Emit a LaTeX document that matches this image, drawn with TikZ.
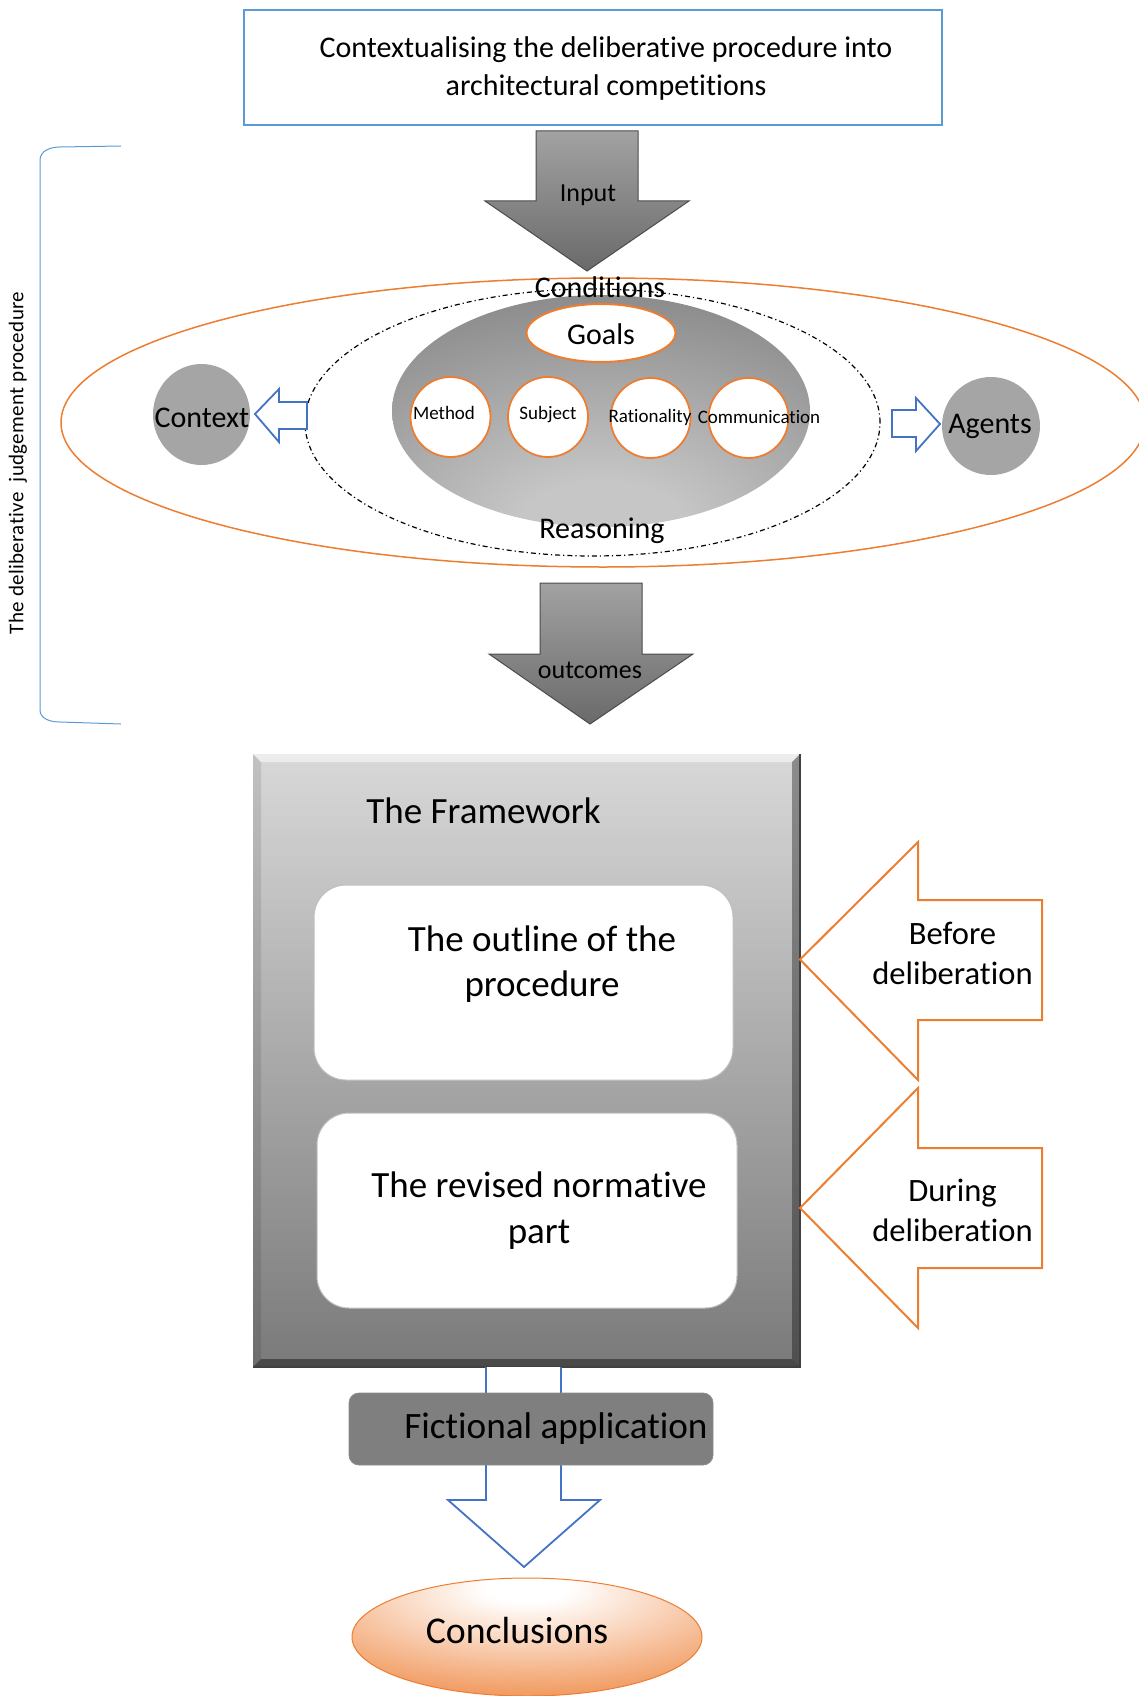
\documentclass[tikz,border=0pt]{standalone}
\usepackage{fontspec}
\setmainfont[Ligatures=NoCommon]{Carlito}
\newfontfamily\spacedfont[Ligatures=NoCommon, LetterSpace=1.5]{Carlito}
\usetikzlibrary{shapes.geometric}

\definecolor{accent}{HTML}{ED7D31}
\definecolor{lineblue}{HTML}{4472C4}
\definecolor{paleblue}{HTML}{5B9BD5}
\definecolor{discgray}{HTML}{A5A5A5}
\definecolor{appgray}{HTML}{7F7F7F}
\definecolor{coreLight}{HTML}{C6C6C6}
\definecolor{coreDark}{HTML}{6A6A6A}
\definecolor{frameTop}{HTML}{D8D8D8}
\definecolor{frameBottom}{HTML}{7A7A7A}
\definecolor{arrowTop}{HTML}{A2A2A2}
\definecolor{arrowBottom}{HTML}{6A6A6A}

% light spot near the bottom of the reasoning core
\pgfdeclareradialshading{coreshade}{\pgfpoint{0bp}{-28bp}}%
  {color(0bp)=(coreLight); color(10bp)=(coreLight); color(60bp)=(coreDark); color(100bp)=(coreDark)}
% white highlight near the top of the conclusions ellipse
\pgfdeclareradialshading{endshade}{\pgfpoint{0bp}{22bp}}%
  {color(0bp)=(white); color(6bp)=(white); color(48bp)=(accent); color(100bp)=(accent)}

\tikzset{
  blockarrow/.style={draw=black!70, line width=0.5pt, top color=arrowTop, bottom color=arrowBottom},
  hollowblue/.style={draw=lineblue, line width=0.9pt, fill=white, line join=miter},
  holloworange/.style={draw=accent, line width=1pt, fill=white, line join=miter},
  facet/.style={circle, draw=accent, line width=0.9pt, fill=white, inner sep=0pt,
    minimum width=39.5pt, minimum height=40pt},
  facettext/.style={font=\fontsize{9.5}{11}\selectfont, inner sep=0pt},
  disc/.style={ellipse, fill=discgray, draw=none, inner sep=0pt},
  label15/.style={font=\fontsize{15}{18}\selectfont, inner sep=0pt},
  innerbox/.style={rectangle, rounded corners=16pt, fill=white, draw=black!25, line width=0.5pt,
    minimum width=209.5pt, minimum height=97.5pt},
  bigtext/.style={font=\fontsize{18.5}{22.7}\selectfont, align=center, inner sep=0pt},
}

\begin{document}
\begin{tikzpicture}[x=0.5pt, y=-0.5pt]
\useasboundingbox (0,0) rectangle (1139,1696);
\clip (0,0) rectangle (1139,1696);

% ---------- heading box ----------
\node (headbox) [rectangle, draw=paleblue, line width=0.7pt, minimum width=349pt, minimum height=57.5pt,
  inner sep=0pt] at (593,67.5) {};
\node (headtext) [font=\fontsize{15}{19}\selectfont, align=center, inner sep=0pt] at (606,69)
  {Contextualising the deliberative procedure into\\architectural competitions};

% ---------- input arrow ----------
\path[blockarrow] (536,131) -- (638,131) -- (638,201) -- (689,201) -- (587,271) -- (485,201) -- (536,201) -- cycle;
\node (input) [font=\fontsize{13}{15}\selectfont, inner sep=0pt] at (588,195) {Input};

% ---------- side bracket with vertical caption ----------
\draw[paleblue, line width=0.5pt] (121,146) -- (60,147) to[out=180,in=90] (40,160) -- (40,710)
  to[out=-90,in=180] (60,722) -- (121,724);
\node (sidecap) [rotate=90, font=\spacedfont\fontsize{10.5}{12}\selectfont, inner sep=0pt] at (18,463)
  {The deliberative\ \ judgement procedure};

% ---------- deliberation ellipses ----------
\node (outer) [ellipse, draw=accent, line width=0.75pt, inner sep=0pt,
  minimum width=542pt, minimum height=144.5pt] at (603,422.5) {};
\node (scope) [ellipse, draw=black, line width=0.6pt, inner sep=0pt,
  dash pattern=on 2.5pt off 1.5pt on 0.6pt off 1.5pt,
  minimum width=287.5pt, minimum height=133.5pt] at (592.5,422.5) {};
\node (core) [ellipse, shading=coreshade, draw=none, inner sep=0pt,
  minimum width=209pt, minimum height=116pt] at (601,411) {};

\node (goals) [ellipse, draw=accent, line width=1pt, fill=white, inner sep=0pt,
  minimum width=74.5pt, minimum height=29pt] at (601,333) {};
\node (goalstext) [label15] at (601,334) {Goals};

\node (method) [facet] at (450.5,417) {};
\node (subject) [facet] at (548,417) {};
\node (rational) [facet] at (650.5,418) {};
\node (commun) [facet] at (748.5,418) {};
\node (methodtext) [facettext] at (444,413) {Method};
\node (subjecttext) [facettext] at (548,415) {Subject};
\node (rationaltext) [facettext] at (650,417) {Rationality};
\node (communtext) [facettext] at (759,417) {Communication};

\node (conditions) [label15] at (600,287) {Conditions};
\node (reasoning) [label15] at (602,531) {Reasoning};

% ---------- context and agents ----------
\node (context) [disc, minimum width=48.5pt, minimum height=50.5pt] at (201.5,414.5) {};
\node (contexttext) [label15] at (202,418) {Context};
\node (agents) [disc, minimum width=49pt, minimum height=49pt] at (991,426) {};
\node (agentstext) [label15] at (990,426) {Agents};

\path[hollowblue] (307,402) -- (279,402) -- (279,389) -- (255,414) -- (279,442) -- (279,429) -- (307,429) -- cycle;
\path[hollowblue] (892,410) -- (916,410) -- (916,398) -- (940,424) -- (916,451) -- (916,437) -- (892,437) -- cycle;

% ---------- outcomes arrow ----------
\path[blockarrow] (540,583) -- (642,583) -- (642,654) -- (693,654) -- (590,724) -- (489,654) -- (540,654) -- cycle;
\node (outcomes) [font=\fontsize{13}{15}\selectfont, inner sep=0pt] at (590,670) {outcomes};

% ---------- framework panel ----------
\node (frame) [rectangle, inner sep=0pt, top color=frameTop, bottom color=frameBottom,
  minimum width=273.5pt, minimum height=306.5pt] at (526.5,1060.5) {};
% bevelled rim
\fill[white, opacity=0.55] (253,754) -- (800,754) -- (792,762) -- (261,762) -- cycle;
\fill[black, opacity=0.10] (253,754) -- (261,762) -- (261,1359) -- (253,1367) -- cycle;
\fill[black, opacity=0.35] (800,754) -- (800,1367) -- (792,1359) -- (792,762) -- cycle;
\fill[black, opacity=0.40] (253,1367) -- (800,1367) -- (792,1359) -- (261,1359) -- cycle;
\draw[black!75, line width=0.6pt] (800,754) -- (800,1367) -- (253,1367);

\node (frametitle) [font=\fontsize{18.5}{22}\selectfont, inner sep=0pt] at (483.5,811) {The Framework};

\node (outline) [innerbox] at (523.5,982.5) {};
\node (outlinetext) [bigtext] at (542,964) {The outline of the\\procedure};
\node (revised) [innerbox, minimum width=210pt] at (527,1210.5) {};
\node (revisedtext) [bigtext] at (539,1210.5) {The revised normative\\part};

% ---------- timing arrows ----------
\path[holloworange] (1042,900) -- (918,900) -- (918,842) -- (800,959.5) -- (918,1080) -- (918,1020) -- (1042,1020) -- cycle;
\node (before) [font=\fontsize{16.3}{20}\selectfont, align=center, inner sep=0pt] at (952.5,953.5)
  {Before\\deliberation};
\path[holloworange] (1042,1148) -- (918,1148) -- (918,1088) -- (800,1208) -- (918,1328) -- (918,1268) -- (1042,1268) -- cycle;
\node (during) [font=\fontsize{16.3}{20}\selectfont, align=center, inner sep=0pt] at (952.5,1210)
  {During\\deliberation};

% ---------- down arrow, application and conclusions ----------
\path[hollowblue] (486,1367) -- (486,1500) -- (448,1500) -- (524,1567) -- (600,1500) -- (561,1500) -- (561,1367);

\node (fiction) [rectangle, rounded corners=5pt, fill=appgray, draw=black!45, line width=0.4pt,
  inner sep=0pt, minimum width=182pt, minimum height=36pt] at (531,1429) {};
\node (fictiontext) [font=\fontsize{18.6}{22}\selectfont, inner sep=0pt] at (556,1429) {Fictional application};

\node (concl) [ellipse, shading=endshade, draw=accent, line width=0.5pt, inner sep=0pt,
  minimum width=175pt, minimum height=59pt] at (527,1637) {};
\node (concltext) [font=\fontsize{18.9}{22}\selectfont, inner sep=0pt] at (517,1630) {Conclusions};
\end{tikzpicture}
\end{document}
